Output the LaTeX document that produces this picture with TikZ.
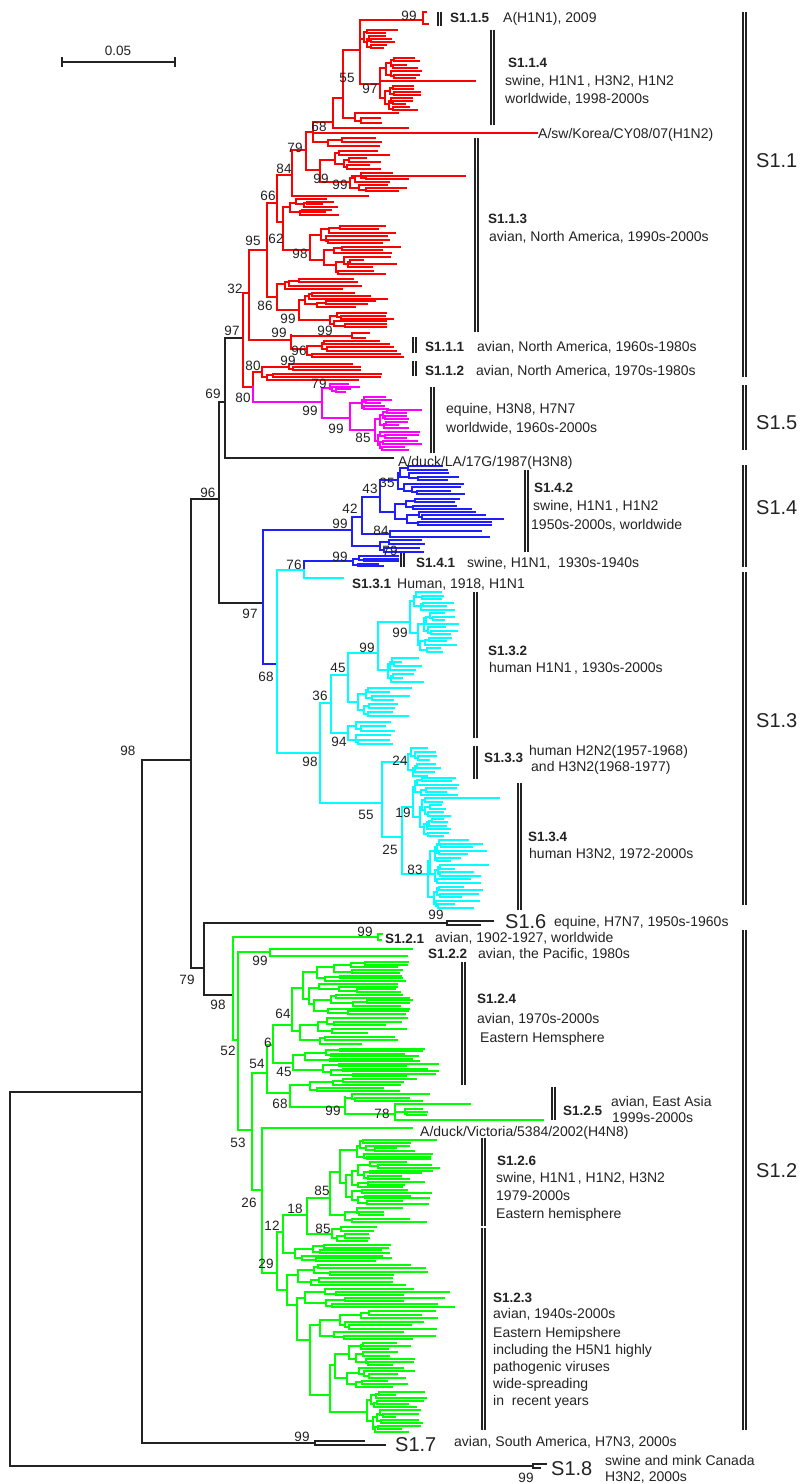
\documentclass[tikz,border=0pt]{standalone}
\usepackage{fontspec}
\setmainfont{Liberation Sans}
\definecolor{rc}{RGB}{255,0,0}
\definecolor{mc}{RGB}{255,0,255}
\definecolor{bc}{RGB}{30,30,255}
\definecolor{cc}{RGB}{0,255,255}
\definecolor{gc}{RGB}{0,255,0}
\definecolor{kc}{RGB}{35,35,35}
\newcommand\fsm{\fontsize{14}{16}\selectfont}
\newcommand\fbs{\fontsize{13.5}{15}\selectfont}
\newcommand\fbd{\fontsize{13.5}{15}\selectfont\bfseries}
\newcommand\fbig{\fontsize{20}{22}\selectfont}
% recursive random subtree: #1 node x, #2 top leaf y, #3 bottom leaf y, #4 leaves
\newcommand\mksub[4]{%
  \begingroup
  \ifnum#4<2\relax
    \pgfmathsetmacro\tXe{max(#1+4,\XLO+(\XHI-\XLO)*rnd)}%
    \pgfmathsetmacro\tYl{round(#2)}%
    \draw (#1,\tYl) -- (\tXe,\tYl);%
    \def\tNext{}%
  \else
    \pgfmathsetmacro\tDy{(#3-(#2))/(#4-1)}%
    \pgfmathtruncatemacro\tNa{max(1,min(#4-1,round(#4*(0.3+0.4*rnd))))}%
    \pgfmathtruncatemacro\tNb{#4-\tNa}%
    \pgfmathsetmacro\tYab{#2+(\tNa-1)*\tDy}%
    \pgfmathsetmacro\tYba{#2+\tNa*\tDy}%
    \pgfmathsetmacro\tMa{round((#2+\tYab)/2)}%
    \pgfmathsetmacro\tMb{round((\tYba+#3)/2)}%
    \pgfmathsetmacro\tXa{round(#1+max(1.5,(\XLO-#1)*(0.05+0.3*rnd)))}%
    \pgfmathsetmacro\tXb{round(#1+max(1.5,(\XLO-#1)*(0.05+0.3*rnd)))}%
    \draw (\tXa,\tMa) -- (#1,\tMa) -- (#1,\tMb) -- (\tXb,\tMb);%
    \edef\tNext{\noexpand\mksub{\tXa}{#2}{\tYab}{\tNa}\noexpand\mksub{\tXb}{\tYba}{#3}{\tNb}}%
  \fi
  \expandafter\endgroup\tNext
}
% clade: parent x, node x, top y, bottom y, leaves, min end, max end, seed
\newcommand\mkcl[8]{%
  \pgfmathsetseed{#8}%
  \def\XLO{#6}\def\XHI{#7}%
  \pgfmathsetmacro\cMid{round((#3+#4)/2)}%
  \draw (#1,\cMid) -- (#2,\cMid);%
  \mksub{#2}{#3}{#4}{#5}%
}
\newcommand\mkbar[3]{\draw[barl] (#1,#2)--(#1,#3) (#1+3,#2)--(#1+3,#3);}
\tikzset{
  barl/.style={draw=kc, line width=1.3pt},
  lab/.style={anchor=base west, inner sep=0pt, font=\fsm, text=kc},
  bld/.style={anchor=base west, inner sep=0pt, font=\fbd, text=kc},
  bsn/.style={anchor=base, inner sep=0pt, font=\fbs, text=kc},
  bign/.style={anchor=base west, inner sep=0pt, font=\fbig, text=kc},
  tree/.style={line width=1.4pt, line cap=rect}
}
\begin{document}
\begin{tikzpicture}[x=1pt,y=-1pt]
\fill[white] (0,0) rectangle (802,1483);
\useasboundingbox (0,0) rectangle (802,1483);

% scale bar
\draw[kc, line width=1.2pt] (62,62)--(175,62) (62,57)--(62,67) (175,57)--(175,67);

% ===== black backbone =====
\begin{scope}[tree, color=kc]
\draw (10,1092)--(10,1466);
\draw (10,1092)--(142,1092);
\draw (10,1466)--(533,1466);
\draw (533,1464)--(533,1468) (533,1464)--(546,1464) (533,1468)--(540,1468);
\draw (142,760)--(142,1443);
\draw (142,760)--(191,760);
\draw (142,1443)--(315,1443);
\draw (315,1441)--(315,1445) (315,1441)--(364,1441) (315,1445)--(385,1445);
\draw (191,499)--(191,968);
\draw (191,499)--(219,499);
\draw (191,968)--(204,968);
\draw (204,923)--(204,995);
\draw (204,923)--(447,923);
\draw (447,921)--(447,925) (447,921)--(493,921) (447,925)--(480,925);
\draw (204,995)--(233,995);
\draw (219,402)--(219,603);
\draw (219,402)--(225,402);
\draw (219,603)--(263,603);
\draw (225,338)--(225,458);
\draw (225,338)--(243,338);
\draw (225,458)--(393,458);
\end{scope}

% ===== red =====
\begin{scope}[tree, color=rc]
\draw (243,293)--(243,387);
\draw (243,293)--(249,293);
\draw (243,387)--(253,387);
\draw (253,372)--(253,387);
\draw (249,250)--(249,340);
\draw (249,250)--(267,250);
\draw (249,340)--(291,340);
\draw (267,203)--(267,297);
\draw (267,203)--(277,203);
\draw (267,297)--(277,297);
\draw (277,175)--(277,222);
\draw (277,175)--(292,175);
\draw (277,222)--(283,222);
\draw (292,150)--(292,196);
\draw (292,150)--(306,150);
\draw (292,196)--(368,196);
\draw (306,132)--(306,170);
\draw (306,132)--(313,132);
\draw (306,170)--(320,170);
\draw (313,122)--(313,142);
\draw (313,122)--(333,122);
\draw (313,133)--(537,133);
\mkcl{313}{328}{138}{146}{3}{370}{400}{11}
\draw (333,98)--(333,128);
\draw (333,98)--(343,98);
\draw (333,128)--(408,128);
\draw (343,50)--(343,118);
\draw (343,50)--(360,50);
\mkcl{343}{355}{113}{123}{3}{380}{400}{12}
\draw (360,20)--(360,84);
\draw (360,20)--(423,20);
\draw (423,12)--(423,24) (423,12)--(426,12) (423,24)--(428,24);
\mkcl{360}{364}{30}{48}{7}{380}{398}{13}
\draw (360,84)--(380,84);
\draw (380,68)--(380,98);
\mkcl{380}{386}{58}{78}{7}{405}{425}{14}
\draw (380,81)--(475,81);
\mkcl{380}{385}{86}{110}{9}{403}{423}{15}
\draw (320,160)--(320,182);
\mkcl{320}{335}{151}{169}{6}{365}{395}{16}
\mkcl{320}{350}{173}{191}{7}{385}{412}{17}
\draw (352,176)--(465,176);
\draw (283,207)--(283,250);
\mkcl{283}{290}{199}{215}{7}{322}{342}{18}
\mkcl{283}{310}{226}{274}{15}{360}{402}{19}
\draw (277,284)--(277,310);
\mkcl{277}{285}{279}{289}{4}{340}{368}{20}
\draw (277,310)--(299,310);
\draw (299,300)--(299,320);
\mkcl{299}{305}{293}{307}{6}{345}{402}{21}
\mkcl{299}{330}{313}{327}{6}{380}{398}{22}
\draw (291,335)--(291,349);
\mkcl{291}{352}{333}{338}{2}{365}{372}{23}
\mkcl{291}{307}{341}{357}{6}{355}{420}{24}
\mkcl{253}{262}{364}{380}{6}{340}{400}{25}
\end{scope}

% ===== magenta =====
\begin{scope}[tree, color=mc]
\draw (253,387)--(253,402);
\draw (253,402)--(322,402);
\draw (322,388)--(322,418);
\mkcl{322}{330}{384}{392}{4}{345}{360}{26}
\draw (322,418)--(350,418);
\draw (350,403)--(350,430);
\mkcl{350}{362}{397}{409}{5}{375}{392}{27}
\mkcl{350}{375}{410}{450}{14}{395}{422}{28}
\end{scope}

% ===== blue =====
\begin{scope}[tree, color=bc]
\draw (263,530)--(263,664);
\draw (263,530)--(352,530);
\draw (263,664)--(277,664);
\draw (352,517)--(352,546);
\draw (352,517)--(362,517);
\mkcl{352}{380}{540}{552}{4}{410}{440}{29}
\draw (362,497)--(362,534);
\draw (362,497)--(380,497);
\mkcl{362}{390}{531}{537}{2}{480}{496}{30}
\draw (380,480)--(380,512);
\mkcl{380}{398}{466}{494}{9}{440}{466}{31}
\mkcl{380}{395}{499}{525}{9}{450}{505}{32}
\draw (304,561)--(304,570);
\mkcl{304}{353}{556}{566}{5}{378}{400}{33}
\end{scope}

% ===== cyan =====
\begin{scope}[tree, color=cc]
\draw (277,570)--(277,753);
\draw (277,570)--(304,570);
\draw (304,570)--(304,578);
\draw (304,578)--(343,578);
\draw (277,753)--(320,753);
\draw (320,703)--(320,803);
\draw (320,703)--(331,703);
\draw (320,803)--(382,803);
\draw (331,675)--(331,733);
\draw (331,675)--(348,675);
\mkcl{331}{348}{722}{744}{6}{380}{396}{34}
\draw (348,653)--(348,702);
\draw (348,653)--(378,653);
\mkcl{348}{358}{688}{716}{8}{385}{412}{35}
\draw (378,622)--(378,670);
\mkcl{378}{410}{592}{652}{18}{440}{460}{36}
\mkcl{378}{388}{658}{682}{7}{400}{425}{37}
\draw (382,762)--(382,837);
\mkcl{382}{408}{748}{776}{8}{425}{442}{38}
\draw (382,837)--(402,837);
\draw (402,807)--(402,874);
\mkcl{402}{413}{778}{836}{18}{440}{462}{39}
\draw (425,798)--(499,798);
\mkcl{402}{428}{840}{908}{20}{445}{490}{40}
\end{scope}

% ===== green =====
\begin{scope}[tree, color=gc]
\draw (233,937)--(233,1040);
\draw (233,937)--(378,937);
\draw (378,934)--(378,940) (378,934)--(382,934) (378,940)--(381,940);
\draw (233,1040)--(238,1040);
\draw (238,952)--(238,1130);
\draw (238,952)--(270,952);
\draw (270,949)--(270,956) (270,949)--(412,949) (270,956)--(407,956);
\draw (238,1130)--(252,1130);
\draw (252,1073)--(252,1190);
\draw (252,1073)--(267,1073);
\draw (252,1190)--(262,1190);
\draw (267,1045)--(267,1093);
\draw (267,1045)--(273,1045);
\draw (267,1093)--(290,1093);
\draw (273,1025)--(273,1062);
\draw (273,1025)--(292,1025);
\mkcl{273}{293}{1049}{1076}{12}{395}{440}{41}
\draw (292,988)--(292,1031);
\mkcl{292}{303}{962}{1014}{20}{395}{412}{42}
\mkcl{292}{300}{1018}{1044}{8}{360}{420}{43}
\draw (290,1085)--(290,1107);
\mkcl{290}{310}{1079}{1091}{5}{380}{423}{44}
\draw (290,1107)--(345,1107);
\draw (345,1097)--(345,1114);
\mkcl{345}{352}{1094}{1101}{3}{400}{430}{45}
\draw (345,1114)--(395,1114);
\draw (395,1104)--(395,1120);
\draw (395,1104)--(470,1104);
\mkcl{395}{405}{1109}{1115}{3}{420}{433}{46}
\draw (395,1120)--(543,1120);
\draw (262,1128)--(262,1273);
\draw (262,1128)--(412,1128);
\draw (262,1273)--(277,1273);
\draw (277,1232)--(277,1290);
\draw (277,1232)--(283,1232);
\draw (283,1215)--(283,1253);
\draw (283,1215)--(307,1215);
\mkcl{283}{295}{1245}{1261}{7}{370}{400}{47}
\draw (307,1198)--(307,1234);
\draw (307,1198)--(330,1198);
\mkcl{307}{332}{1227}{1241}{5}{365}{382}{48}
\draw (330,1172)--(330,1215);
\mkcl{330}{340}{1140}{1204}{24}{395}{440}{49}
\mkcl{330}{345}{1208}{1222}{5}{380}{433}{50}
\draw (277,1290)--(287,1290);
\draw (287,1275)--(287,1305);
\mkcl{287}{298}{1265}{1285}{7}{385}{430}{51}
\draw (287,1305)--(297,1305);
\draw (297,1298)--(297,1340);
\mkcl{297}{305}{1289}{1307}{7}{400}{470}{52}
\draw (297,1340)--(310,1340);
\draw (310,1325)--(310,1395);
\mkcl{310}{320}{1311}{1339}{9}{400}{441}{53}
\draw (310,1395)--(330,1395);
\draw (330,1365)--(330,1412);
\mkcl{330}{335}{1343}{1387}{15}{385}{418}{54}
\mkcl{330}{367}{1392}{1432}{14}{395}{430}{55}
\end{scope}

% ===== bars =====
\mkbar{438}{12}{26}
\mkbar{491}{30}{125}
\mkbar{475}{138}{332}
\mkbar{413}{337}{353}
\mkbar{413}{361}{376}
\mkbar{431}{387}{453}
\mkbar{525}{470}{552}
\mkbar{401}{553}{567}
\mkbar{474}{592}{738}
\mkbar{474}{746}{779}
\mkbar{518}{783}{910}
\mkbar{462}{962}{1085}
\mkbar{552}{1087}{1120}
\mkbar{482}{1138}{1226}
\mkbar{482}{1228}{1430}
\mkbar{743}{12}{377}
\mkbar{743}{385}{450}
\mkbar{743}{465}{567}
\mkbar{743}{572}{905}
\mkbar{743}{930}{1430}

\node[bsn] (sc) at (118,55) {0.05};

% ===== big labels =====
\node[bign] (g11) at (756,167) {S1.1};
\node[bign] (g15) at (756,429) {S1.5};
\node[bign] (g14) at (756,514) {S1.4};
\node[bign] (g13) at (756,727) {S1.3};
\node[bign] (g12) at (756,1177) {S1.2};
\node[bign] (g16) at (505,928) {S1.6};
\node[bign] (g17) at (395,1451) {S1.7};
\node[bign] (g18) at (551,1475) {S1.8};

% ===== bold sublabels =====
\node[bld] (s115) at (450,23) {S1.1.5};
\node[bld] (s114) at (508,67) {S1.1.4};
\node[bld] (s113) at (488,223) {S1.1.3};
\node[bld] (s111) at (425,351) {S1.1.1};
\node[bld] (s112) at (425,375) {S1.1.2};
\node[bld] (s142) at (534,492) {S1.4.2};
\node[bld] (s141) at (416,567) {S1.4.1};
\node[bld] (s131) at (352,588) {S1.3.1};
\node[bld] (s132) at (488,655) {S1.3.2};
\node[bld] (s133) at (484,762) {S1.3.3};
\node[bld] (s134) at (528,841) {S1.3.4};
\node[bld] (s121) at (385,943) {S1.2.1};
\node[bld] (s122) at (428,958) {S1.2.2};
\node[bld] (s124) at (477,1003) {S1.2.4};
\node[bld] (s125) at (563,1115) {S1.2.5};
\node[bld] (s126) at (497,1165) {S1.2.6};
\node[bld] (s123) at (493,1302) {S1.2.3};

% ===== descriptive texts =====
\node[lab] (d1) at (503,23) {A(H1N1), 2009};
\node[lab] (d2) at (505,85) {swine, H1N1\,, H3N2, H1N2};
\node[lab] (d3) at (505,103) {worldwide, 1998-2000s};
\node[lab] (d4) at (538,138) {A/sw/Korea/CY08/07(H1N2)};
\node[lab] (d5) at (489,241) {avian, North America, 1990s-2000s};
\node[lab] (d6) at (477,351) {avian, North America, 1960s-1980s};
\node[lab] (d7) at (476,375) {avian, North America, 1970s-1980s};
\node[lab] (d8) at (446,413) {equine, H3N8, H7N7};
\node[lab] (d9) at (446,432) {worldwide, 1960s-2000s};
\node[lab] (d10) at (398,466) {A/duck/LA/17G/1987(H3N8)};
\node[lab] (d11) at (533,510) {swine, H1N1\,, H1N2};
\node[lab] (d12) at (531,529) {1950s-2000s, worldwide};
\node[lab] (d13) at (467,567) {swine, H1N1,\ \ 1930s-1940s};
\node[lab] (d14) at (397,588) {Human, 1918, H1N1};
\node[lab] (d15) at (489,672) {human H1N1\,, 1930s-2000s};
\node[lab] (d16) at (529,755) {human H2N2(1957-1968)};
\node[lab] (d17) at (531,771) {and H3N2(1968-1977)};
\node[lab] (d18) at (529,858) {human H3N2, 1972-2000s};
\node[lab] (d19) at (554,926) {equine, H7N7, 1950s-1960s};
\node[lab] (d20) at (435,942) {avian, 1902-1927, worldwide};
\node[lab] (d21) at (478,958) {avian, the Pacific, 1980s};
\node[lab] (d22) at (477,1023) {avian, 1970s-2000s};
\node[lab] (d23) at (480,1042) {Eastern Hemsphere};
\node[lab] (d24) at (611,1106) {avian, East Asia};
\node[lab] (d25) at (612,1122) {1999s-2000s};
\node[lab] (d26) at (420,1136) {A/duck/Victoria/5384/2002(H4N8)};
\node[lab] (d27) at (496,1182) {swine, H1N1\,, H1N2, H3N2};
\node[lab] (d28) at (496,1200) {1979-2000s};
\node[lab] (d29) at (496,1218) {Eastern hemisphere};
\node[lab] (d30) at (493,1318) {avian, 1940s-2000s};
\node[lab] (d31) at (493,1337) {Eastern Hemipshere};
\node[lab] (d32) at (493,1354) {including the H5N1 highly};
\node[lab] (d33) at (493,1371) {pathogenic viruses};
\node[lab] (d34) at (493,1388) {wide-spreading};
\node[lab] (d35) at (493,1405) {in\ \ recent years};
\node[lab] (d36) at (454,1446) {avian, South America, H7N3, 2000s};
\node[lab] (d37) at (605,1465) {swine and mink Canada};
\node[lab] (d38) at (605,1481) {H3N2, 2000s};

% ===== bootstrap values =====
\node[bsn] (v1) at (409,20) {99};
\node[bsn] (v2) at (347,82) {55};
\node[bsn] (v3) at (370,93) {97};
\node[bsn] (v4) at (319,131) {68};
\node[bsn] (v5) at (295,152) {79};
\node[bsn] (v6) at (284,173) {84};
\node[bsn] (v7) at (321,183) {99};
\node[bsn] (v8) at (340,189) {99};
\node[bsn] (v9) at (268,200) {66};
\node[bsn] (v10) at (253,245) {95};
\node[bsn] (v11) at (276,243) {62};
\node[bsn] (v12) at (300,258) {98};
\node[bsn] (v13) at (235,293) {32};
\node[bsn] (v14) at (265,310) {86};
\node[bsn] (v15) at (288,323) {99};
\node[bsn] (v16) at (279,337) {99};
\node[bsn] (v17) at (325,335) {99};
\node[bsn] (v18) at (232,335) {97};
\node[bsn] (v19) at (299,355) {96};
\node[bsn] (v20) at (288,365) {99};
\node[bsn] (v21) at (253,370) {80};
\node[bsn] (v22) at (213,398) {69};
\node[bsn] (v23) at (243,402) {80};
\node[bsn] (v24) at (319,388) {79};
\node[bsn] (v25) at (310,415) {99};
\node[bsn] (v26) at (336,433) {99};
\node[bsn] (v27) at (363,442) {85};
\node[bsn] (v28) at (208,497) {96};
\node[bsn] (v29) at (387,487) {35};
\node[bsn] (v30) at (370,493) {43};
\node[bsn] (v31) at (350,513) {42};
\node[bsn] (v32) at (340,528) {99};
\node[bsn] (v33) at (381,535) {84};
\node[bsn] (v34) at (390,555) {79};
\node[bsn] (v35) at (340,561) {99};
\node[bsn] (v36) at (294,569) {76};
\node[bsn] (v37) at (250,618) {97};
\node[bsn] (v38) at (400,637) {99};
\node[bsn] (v39) at (367,652) {99};
\node[bsn] (v40) at (266,681) {68};
\node[bsn] (v41) at (338,672) {45};
\node[bsn] (v42) at (320,700) {36};
\node[bsn] (v43) at (339,746) {94};
\node[bsn] (v44) at (310,766) {98};
\node[bsn] (v45) at (400,765) {24};
\node[bsn] (v46) at (366,819) {55};
\node[bsn] (v47) at (403,817) {19};
\node[bsn] (v48) at (390,854) {25};
\node[bsn] (v49) at (415,874) {83};
\node[bsn] (v50) at (436,919) {99};
\node[bsn] (v51) at (365,936) {99};
\node[bsn] (v52) at (187,984) {79};
\node[bsn] (v53) at (260,965) {99};
\node[bsn] (v54) at (218,1009) {98};
\node[bsn] (v55) at (283,1018) {64};
\node[bsn] (v56) at (268,1047) {6};
\node[bsn] (v57) at (228,1055) {52};
\node[bsn] (v58) at (257,1068) {54};
\node[bsn] (v59) at (284,1076) {45};
\node[bsn] (v60) at (280,1108) {68};
\node[bsn] (v61) at (333,1115) {99};
\node[bsn] (v62) at (382,1118) {78};
\node[bsn] (v63) at (238,1147) {53};
\node[bsn] (v64) at (322,1195) {85};
\node[bsn] (v65) at (249,1207) {26};
\node[bsn] (v66) at (295,1213) {18};
\node[bsn] (v67) at (272,1230) {12};
\node[bsn] (v68) at (323,1233) {85};
\node[bsn] (v69) at (266,1268) {29};
\node[bsn] (v70) at (302,1441) {99};
\node[bsn] (v71) at (526,1482) {99};
\node[bsn] (v72) at (128,755) {98};
\end{tikzpicture}
\end{document}
